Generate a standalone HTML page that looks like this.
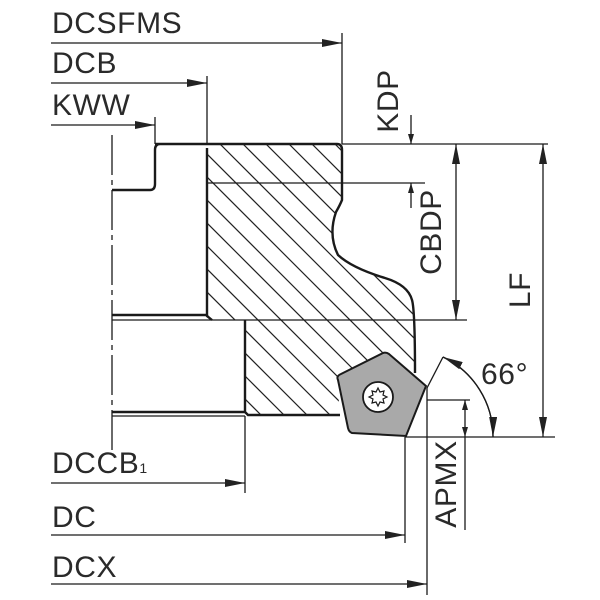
<!DOCTYPE html>
<html><head><style>
html,body{margin:0;padding:0;background:#fff}
svg{display:block}
text{font-family:"Liberation Sans",sans-serif;fill:#2a2a2a;font-size:30px;letter-spacing:0.6px}
</style></head><body>
<svg width="600" height="600" viewBox="0 0 600 600">
<defs>
<clipPath id="hc">
<path d="M210,144 L337,144 Q342,144 342,150 L342,200 Q340,205 336,212 Q328,235 338,255 Q352,268 385,278 Q408,285 412,300 Q415,310 415,373 L340,380 L338,415 L248,415 L245,412 L245,320 L212,320 L207,316 L207,148 Z"/>
</clipPath>
<marker id="a" viewBox="0 0 20 8" refX="20" refY="4" markerWidth="20" markerHeight="8" markerUnits="userSpaceOnUse" orient="auto"><path d="M0,0 L20,4 L0,8 Z" fill="#222"/></marker>
<marker id="s" viewBox="0 0 10 6" refX="10" refY="3" markerWidth="10" markerHeight="6" markerUnits="userSpaceOnUse" orient="auto"><path d="M0,0 L10,3 L0,6 Z" fill="#222"/></marker>
</defs>
<g clip-path="url(#hc)" stroke="#222" stroke-width="1.2" fill="none">
<path d="M-200,0 l600,600 M-177,0 l600,600 M-154,0 l600,600 M-131,0 l600,600 M-108,0 l600,600 M-85,0 l600,600 M-62,0 l600,600 M-39,0 l600,600 M-16,0 l600,600 M7,0 l600,600 M30,0 l600,600 M53,0 l600,600 M76,0 l600,600 M99,0 l600,600 M122,0 l600,600 M145,0 l600,600 M168,0 l600,600 M191,0 l600,600 M214,0 l600,600 M237,0 l600,600 M260,0 l600,600 M283,0 l600,600 M306,0 l600,600 M329,0 l600,600"/>
</g>
<g stroke="#1a1a1a" stroke-width="2.4" fill="none">
<path d="M210,144 L337,144 Q342,144 342,150 L342,200 Q340,205 336,212 Q328,235 338,255 Q352,268 385,278 Q408,285 412,300 Q415,310 415,373"/>
<path d="M207,148 L207,316 L212,320"/>
<path d="M245,320 L245,412 L248,415 L340,415"/>
<path d="M155,144 L160,144 Q155,144 155,150 L155,184 Q155,190 150,190 L112,190"/>
<line x1="160" y1="144" x2="210" y2="144"/>
<line x1="112" y1="315" x2="207" y2="315"/>
<line x1="112" y1="412" x2="245" y2="412"/>
</g>
<g stroke="#1a1a1a" stroke-width="1.3" fill="none">
<line x1="112" y1="320" x2="467" y2="320"/>
<line x1="112" y1="416" x2="245" y2="416"/>
<line x1="207" y1="183" x2="425" y2="183"/>
<line x1="342" y1="144" x2="548" y2="144"/>
<line x1="405" y1="437" x2="555" y2="437"/>
<line x1="427" y1="400" x2="470" y2="400"/>
<path d="M112,135 V455" stroke-dasharray="40,5,5,5"/>
<line x1="342" y1="33" x2="342" y2="144"/>
<line x1="207" y1="76" x2="207" y2="144"/>
<line x1="155" y1="117" x2="155" y2="144"/>
<line x1="245" y1="416" x2="245" y2="493"/>
<line x1="405" y1="437" x2="405" y2="543"/>
<line x1="427" y1="388" x2="427" y2="595"/>
<line x1="51" y1="43" x2="342" y2="43" marker-end="url(#a)"/>
<line x1="51" y1="83" x2="207" y2="83" marker-end="url(#a)"/>
<line x1="51" y1="125" x2="155" y2="125" marker-end="url(#a)"/>
<line x1="51" y1="483" x2="245" y2="483" marker-end="url(#a)"/>
<line x1="51" y1="535" x2="405" y2="535" marker-end="url(#a)"/>
<line x1="51" y1="584" x2="427" y2="584" marker-end="url(#a)"/>
<line x1="411" y1="115" x2="411" y2="144" marker-end="url(#s)"/>
<line x1="411" y1="208" x2="411" y2="183" marker-end="url(#s)"/>
<line x1="456" y1="232" x2="456" y2="144" marker-end="url(#a)"/>
<line x1="456" y1="232" x2="456" y2="320" marker-end="url(#a)"/>
<line x1="543" y1="290" x2="543" y2="144" marker-end="url(#a)"/>
<line x1="543" y1="290" x2="543" y2="437" marker-end="url(#a)"/>
<line x1="465" y1="418" x2="465" y2="400" marker-end="url(#s)"/>
<line x1="465" y1="418" x2="465" y2="437" marker-end="url(#s)"/>
<line x1="465" y1="437" x2="465" y2="530"/>
<line x1="427" y1="388" x2="443" y2="357"/>
<path d="M443,357 A88,88 0 0 1 493,437" marker-end="url(#a)"/>
<path d="M493,437 A88,88 0 0 0 443,357" marker-end="url(#a)"/>
</g>
<path d="M338,380 Q336,376 341,374 L383,353 Q386,352 389,354 L426,386 L406,436 L352,433 Q349,432 348,428 Z" fill="#a9a9a9" stroke="#1a1a1a" stroke-width="2"/>
<circle cx="378" cy="397" r="15" fill="#fff" stroke="#1a1a1a" stroke-width="1.8"/>
<path d="M378,388 l2,4 4,-1 -1,4 4,2 -4,2 1,4 -4,-1 -2,4 -2,-4 -4,1 1,-4 -4,-2 4,-2 -1,-4 4,1 z" fill="#fff" stroke="#1a1a1a" stroke-width="1.2"/>
<text x="52" y="33">DCSFMS</text>
<text x="52" y="73">DCB</text>
<text x="52" y="115">KWW</text>
<text x="52" y="473">DCCB<tspan font-size="14">1</tspan></text>
<text x="52" y="527">DC</text>
<text x="52" y="577">DCX</text>
<text x="481" y="384">66°</text>
<text transform="translate(398,101) rotate(-90)" text-anchor="middle">KDP</text>
<text transform="translate(441,232) rotate(-90)" text-anchor="middle">CBDP</text>
<text transform="translate(530,290) rotate(-90)" text-anchor="middle">LF</text>
<text transform="translate(456,484) rotate(-90)" text-anchor="middle">APMX</text>
</svg>
</body></html>
